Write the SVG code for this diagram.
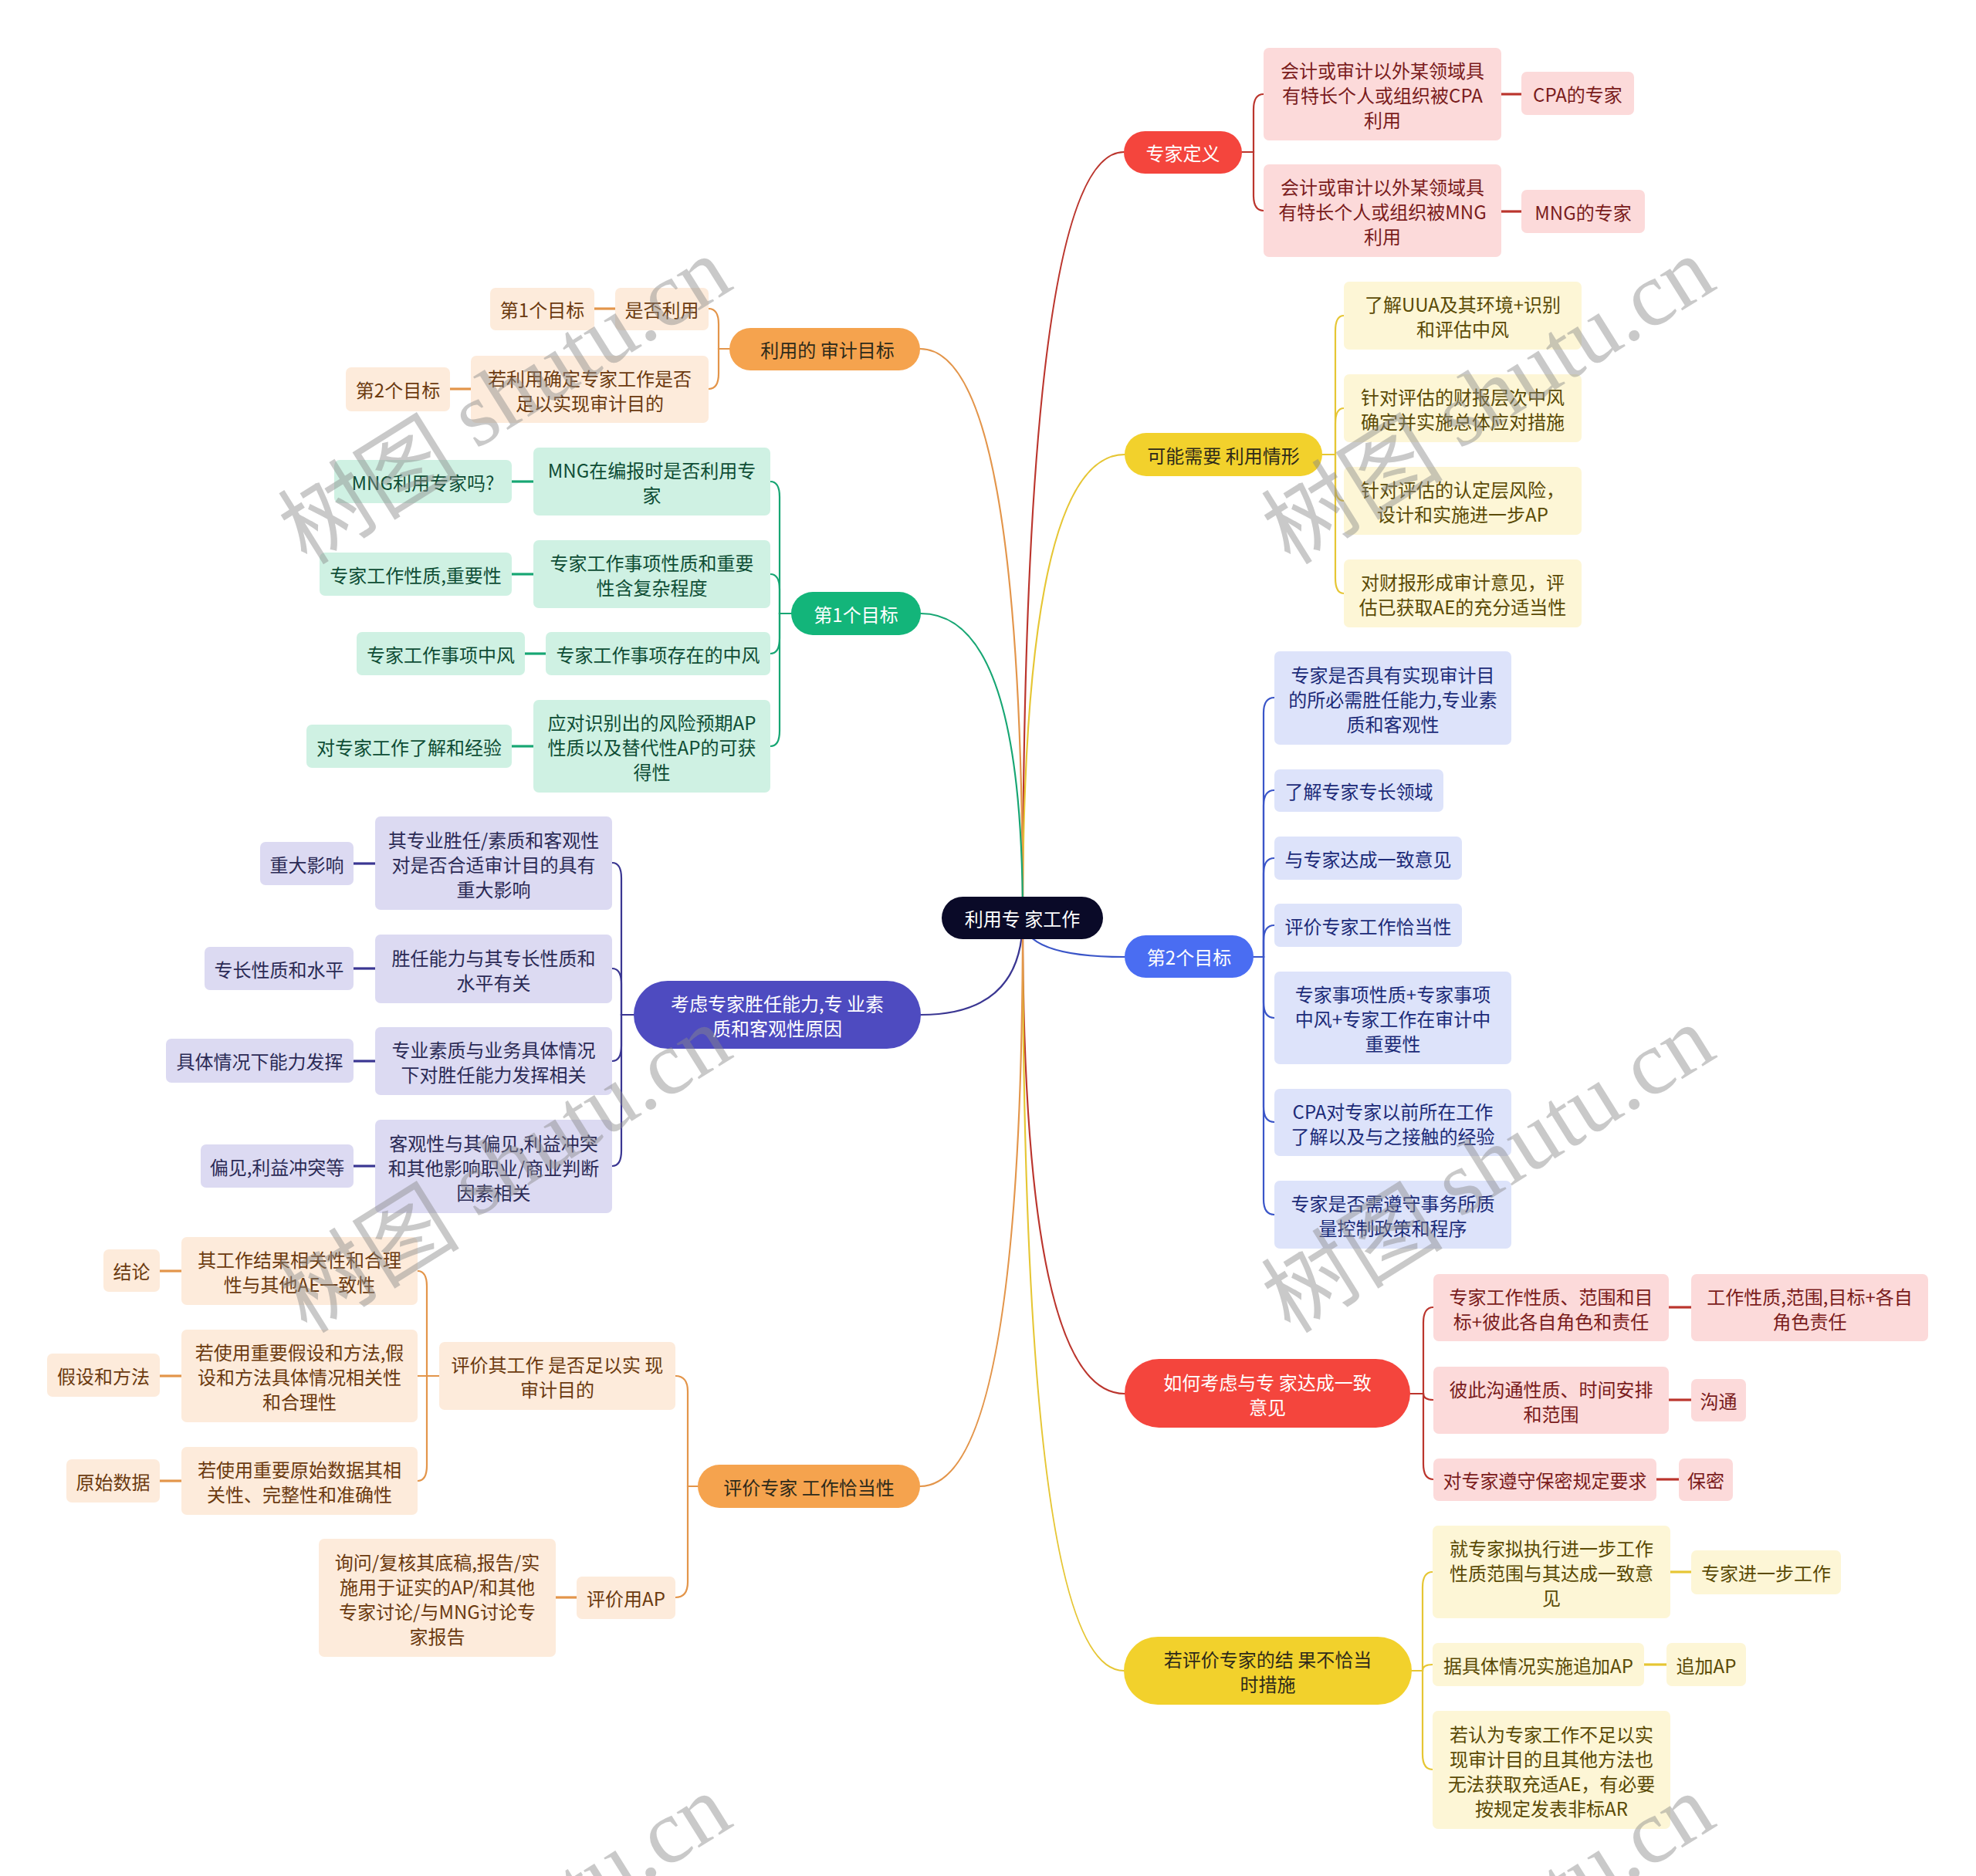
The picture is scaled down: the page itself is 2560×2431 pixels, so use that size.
<svg xmlns="http://www.w3.org/2000/svg" width="2560" height="2431" viewBox="0 0 2560 2431">
<style>
text{font-family:"Noto Sans CJK SC","Noto Sans",sans-serif;font-size:24px;text-anchor:middle;dominant-baseline:central}
.c{fill:none;stroke-width:2.2;stroke-linecap:round}
.g{fill:none;stroke-width:3.2}
.kr{stroke:#bb352d}.ky{stroke:#e6c634}.kb{stroke:#3a55c8}.kg{stroke:#17a673}.ko{stroke:#e3954a}.kp{stroke:#3a3692}
.mr{fill:#f4453d}.my{fill:#f2d12c}.mb{fill:#4a6df2}.mg{fill:#13b57a}.mo{fill:#f5a34e}.mp{fill:#4e4bc0}.mc{fill:#0a0a28}
.br{fill:#fcdada}.by{fill:#fdf6d6}.bb{fill:#dde3fa}.bg{fill:#cff1e3}.bo{fill:#fdebdb}.bp{fill:#dcdaf2}
.w{fill:#ffffff}.dk{fill:#2e2a1a}
.tr{fill:#7a1c1c}.ty{fill:#5a4a05}.tb{fill:#1c2b78}.tg{fill:#0e4d35}.to{fill:#6b3a0f}.tp{fill:#2b2a55}
.wm{fill:#8a8a8a;opacity:0.45;font-size:118px}
</style>
<rect width="2560" height="2431" fill="#ffffff"/>
<g id="connectors">
<path class="c kr" d="M1325,1190 Q1325,197 1456,197"/>
<path class="c ky" d="M1325,1190 Q1325,589 1457,589"/>
<path class="c kb" d="M1325,1190 Q1325,1240 1457,1240"/>
<path class="c kr" d="M1325,1190 Q1325,1806 1457,1806"/>
<path class="c ky" d="M1325,1190 Q1325,2165 1456,2165"/>
<path class="c ko" d="M1325,1190 Q1325,452 1192,452"/>
<path class="c kg" d="M1325,1190 Q1325,795 1193,795"/>
<path class="c kp" d="M1325,1190 Q1325,1315 1193,1315"/>
<path class="c ko" d="M1325,1190 Q1325,1926 1192,1926"/>
<path class="c kr" d="M1609,197 H1624 V142 Q1624,122 1637,122"/>
<path class="c kr" d="M1609,197 H1624 V253 Q1624,273 1637,273"/>
<path class="g kr" d="M1945,122 H1971"/>
<path class="g kr" d="M1945,274 H1971"/>
<path class="c ky" d="M1713,589 H1730 V429 Q1730,409 1741,409"/>
<path class="c ky" d="M1713,589 H1730 V549 Q1730,529 1741,529"/>
<path class="c ky" d="M1713,589 H1730 V629 Q1730,649 1741,649"/>
<path class="c ky" d="M1713,589 H1730 V749 Q1730,769 1741,769"/>
<path class="c kb" d="M1624,1240 H1637 V924 Q1637,904 1651,904"/>
<path class="c kb" d="M1624,1240 H1637 V1044 Q1637,1024 1651,1024"/>
<path class="c kb" d="M1624,1240 H1637 V1132 Q1637,1112 1651,1112"/>
<path class="c kb" d="M1624,1240 H1637 V1219 Q1637,1199 1651,1199"/>
<path class="c kb" d="M1624,1240 H1637 V1299 Q1637,1319 1651,1319"/>
<path class="c kb" d="M1624,1240 H1637 V1434 Q1637,1454 1651,1454"/>
<path class="c kb" d="M1624,1240 H1637 V1554 Q1637,1574 1651,1574"/>
<path class="c kr" d="M1827,1806 H1844 V1714 Q1844,1694 1857,1694"/>
<path class="c kr" d="M1827,1806 H1844 Q1844,1814 1857,1814"/>
<path class="c kr" d="M1827,1806 H1844 V1897 Q1844,1917 1857,1917"/>
<path class="g kr" d="M2162,1694 H2191"/>
<path class="g kr" d="M2162,1814 H2191"/>
<path class="g kr" d="M2146,1917 H2175"/>
<path class="c ky" d="M1829,2165 H1843 V2057 Q1843,2037 1856,2037"/>
<path class="c ky" d="M1829,2165 H1843 Q1843,2157 1856,2157"/>
<path class="c ky" d="M1829,2165 H1843 V2273 Q1843,2293 1856,2293"/>
<path class="g ky" d="M2164,2037 H2191"/>
<path class="g ky" d="M2130,2157 H2159"/>
<path class="c ko" d="M945,452 H931 V420 Q931,400 918,400"/>
<path class="c ko" d="M945,452 H931 V484 Q931,504 918,504"/>
<path class="g ko" d="M797,400 H770"/>
<path class="g ko" d="M610,504 H583"/>
<path class="c kg" d="M1025,795 H1010 V644 Q1010,624 998,624"/>
<path class="c kg" d="M1025,795 H1010 V764 Q1010,744 998,744"/>
<path class="c kg" d="M1025,795 H1010 V827 Q1010,847 998,847"/>
<path class="c kg" d="M1025,795 H1010 V947 Q1010,967 998,967"/>
<path class="g kg" d="M691,624 H663"/>
<path class="g kg" d="M691,744 H663"/>
<path class="g kg" d="M707,847 H680"/>
<path class="g kg" d="M691,967 H663"/>
<path class="c kp" d="M821,1315 H805 V1138 Q805,1118 793,1118"/>
<path class="c kp" d="M821,1315 H805 V1275 Q805,1255 793,1255"/>
<path class="c kp" d="M821,1315 H805 V1355 Q805,1375 793,1375"/>
<path class="c kp" d="M821,1315 H805 V1491 Q805,1511 793,1511"/>
<path class="g kp" d="M486,1119 H458"/>
<path class="g kp" d="M486,1255 H458"/>
<path class="g kp" d="M486,1375 H458"/>
<path class="g kp" d="M486,1511 H458"/>
<path class="c ko" d="M904,1926 H891 V1803 Q891,1783 875,1783"/>
<path class="c ko" d="M904,1926 H891 V2050 Q891,2070 875,2070"/>
<path class="c ko" d="M569,1783 H553 V1667 Q553,1647 541,1647"/>
<path class="c ko" d="M569,1783 H541"/>
<path class="c ko" d="M569,1783 H553 V1899 Q553,1919 541,1919"/>
<path class="g ko" d="M235,1647 H207"/>
<path class="g ko" d="M235,1783 H207"/>
<path class="g ko" d="M235,1919 H207"/>
<path class="g ko" d="M747,2070 H720"/>
</g>

<g id="center"><rect class="mc" x="1220" y="1162" width="209" height="55" rx="27.5"/><text class="w" x="1324.5" y="1189.5">利用专 家工作</text></g>

<g id="n1"><rect class="mr" x="1456" y="170" width="153" height="55" rx="27.5"/><text class="w" x="1532.5" y="197.5">专家定义</text></g>
<g id="n1a"><rect class="br" x="1637" y="62" width="308" height="120" rx="7"/><text class="tr"><tspan x="1791" y="90">会计或审计以外某领域具</tspan><tspan x="1791" y="122">有特长个人或组织被CPA</tspan><tspan x="1791" y="154">利用</tspan></text></g>
<g id="n1b"><rect class="br" x="1637" y="213" width="308" height="120" rx="7"/><text class="tr"><tspan x="1791" y="241">会计或审计以外某领域具</tspan><tspan x="1791" y="273">有特长个人或组织被MNG</tspan><tspan x="1791" y="305">利用</tspan></text></g>
<g id="n1a1"><rect class="br" x="1971" y="93" width="146" height="56" rx="7"/><text class="tr" x="2044" y="121">CPA的专家</text></g>
<g id="n1b1"><rect class="br" x="1971" y="246" width="160" height="56" rx="7"/><text class="tr" x="2051" y="274">MNG的专家</text></g>

<g id="n2"><rect class="my" x="1457" y="561" width="256" height="56" rx="28"/><text class="dk" x="1585" y="589">可能需要 利用情形</text></g>
<g id="n2a"><rect class="by" x="1741" y="365" width="308" height="88" rx="7"/><text class="ty"><tspan x="1895" y="393">了解UUA及其环境+识别</tspan><tspan x="1895" y="425">和评估中风</tspan></text></g>
<g id="n2b"><rect class="by" x="1741" y="485" width="308" height="88" rx="7"/><text class="ty"><tspan x="1895" y="513">针对评估的财报层次中风</tspan><tspan x="1895" y="545">确定并实施总体应对措施</tspan></text></g>
<g id="n2c"><rect class="by" x="1741" y="605" width="308" height="88" rx="7"/><text class="ty"><tspan x="1895" y="633">针对评估的认定层风险，</tspan><tspan x="1895" y="665">设计和实施进一步AP</tspan></text></g>
<g id="n2d"><rect class="by" x="1741" y="725" width="308" height="88" rx="7"/><text class="ty"><tspan x="1895" y="753">对财报形成审计意见，评</tspan><tspan x="1895" y="785">估已获取AE的充分适当性</tspan></text></g>

<g id="n3"><rect class="mb" x="1457" y="1212" width="167" height="55" rx="27.5"/><text class="w" x="1540.5" y="1239.5">第2个目标</text></g>
<g id="n3a"><rect class="bb" x="1651" y="844" width="307" height="121" rx="7"/><text class="tb"><tspan x="1804.5" y="872.5">专家是否具有实现审计目</tspan><tspan x="1804.5" y="904.5">的所必需胜任能力,专业素</tspan><tspan x="1804.5" y="936.5">质和客观性</tspan></text></g>
<g id="n3b"><rect class="bb" x="1651" y="997" width="219" height="55" rx="7"/><text class="tb" x="1760.5" y="1024.5">了解专家专长领域</text></g>
<g id="n3c"><rect class="bb" x="1651" y="1084" width="243" height="56" rx="7"/><text class="tb" x="1772.5" y="1112">与专家达成一致意见</text></g>
<g id="n3d"><rect class="bb" x="1651" y="1171" width="243" height="56" rx="7"/><text class="tb" x="1772.5" y="1199">评价专家工作恰当性</text></g>
<g id="n3e"><rect class="bb" x="1651" y="1259" width="307" height="120" rx="7"/><text class="tb"><tspan x="1804.5" y="1287">专家事项性质+专家事项</tspan><tspan x="1804.5" y="1319">中风+专家工作在审计中</tspan><tspan x="1804.5" y="1351">重要性</tspan></text></g>
<g id="n3f"><rect class="bb" x="1651" y="1411" width="307" height="87" rx="7"/><text class="tb"><tspan x="1804.5" y="1438.5">CPA对专家以前所在工作</tspan><tspan x="1804.5" y="1470.5">了解以及与之接触的经验</tspan></text></g>
<g id="n3g"><rect class="bb" x="1651" y="1530" width="307" height="88" rx="7"/><text class="tb"><tspan x="1804.5" y="1558">专家是否需遵守事务所质</tspan><tspan x="1804.5" y="1590">量控制政策和程序</tspan></text></g>

<g id="n4"><rect class="mr" x="1457" y="1761" width="370" height="89" rx="44.5"/><text class="w"><tspan x="1642" y="1789.5">如何考虑与专 家达成一致</tspan><tspan x="1642" y="1821.5">意见</tspan></text></g>
<g id="n4a"><rect class="br" x="1857" y="1651" width="305" height="87" rx="7"/><text class="tr"><tspan x="2009.5" y="1678.5">专家工作性质、范围和目</tspan><tspan x="2009.5" y="1710.5">标+彼此各自角色和责任</tspan></text></g>
<g id="n4b"><rect class="br" x="1857" y="1771" width="305" height="87" rx="7"/><text class="tr"><tspan x="2009.5" y="1798.5">彼此沟通性质、时间安排</tspan><tspan x="2009.5" y="1830.5">和范围</tspan></text></g>
<g id="n4c"><rect class="br" x="1857" y="1890" width="289" height="55" rx="7"/><text class="tr" x="2001.5" y="1917.5">对专家遵守保密规定要求</text></g>
<g id="n4a1"><rect class="br" x="2191" y="1651" width="307" height="87" rx="7"/><text class="tr"><tspan x="2344.5" y="1678.5">工作性质,范围,目标+各自</tspan><tspan x="2344.5" y="1710.5">角色责任</tspan></text></g>
<g id="n4b1"><rect class="br" x="2191" y="1787" width="71" height="55" rx="7"/><text class="tr" x="2226.5" y="1814.5">沟通</text></g>
<g id="n4c1"><rect class="br" x="2175" y="1890" width="70" height="55" rx="7"/><text class="tr" x="2210" y="1917.5">保密</text></g>

<g id="n5"><rect class="my" x="1456" y="2121" width="373" height="88" rx="44"/><text class="dk"><tspan x="1642.5" y="2149">若评价专家的结 果不恰当</tspan><tspan x="1642.5" y="2181">时措施</tspan></text></g>
<g id="n5a"><rect class="by" x="1856" y="1977" width="308" height="120" rx="7"/><text class="ty"><tspan x="2010" y="2005">就专家拟执行进一步工作</tspan><tspan x="2010" y="2037">性质范围与其达成一致意</tspan><tspan x="2010" y="2069">见</tspan></text></g>
<g id="n5b"><rect class="by" x="1856" y="2129" width="274" height="56" rx="7"/><text class="ty" x="1993" y="2157">据具体情况实施追加AP</text></g>
<g id="n5c"><rect class="by" x="1856" y="2217" width="308" height="153" rx="7"/><text class="ty"><tspan x="2010" y="2245.5">若认为专家工作不足以实</tspan><tspan x="2010" y="2277.5">现审计目的且其他方法也</tspan><tspan x="2010" y="2309.5">无法获取充适AE，有必要</tspan><tspan x="2010" y="2341.5">按规定发表非标AR</tspan></text></g>
<g id="n5a1"><rect class="by" x="2191" y="2009" width="194" height="57" rx="7"/><text class="ty" x="2288" y="2037.5">专家进一步工作</text></g>
<g id="n5b1"><rect class="by" x="2159" y="2129" width="103" height="56" rx="7"/><text class="ty" x="2210.5" y="2157">追加AP</text></g>

<g id="n6"><rect class="mo" x="945" y="425" width="247" height="55" rx="27.5"/><text class="dk" x="1072" y="452.5">利用的 审计目标</text></g>
<g id="n6a"><rect class="bo" x="797" y="373" width="121" height="55" rx="7"/><text class="to" x="857.5" y="400.5">是否利用</text></g>
<g id="n6b"><rect class="bo" x="610" y="461" width="308" height="87" rx="7"/><text class="to"><tspan x="764" y="488.5">若利用确定专家工作是否</tspan><tspan x="764" y="520.5">足以实现审计目的</tspan></text></g>
<g id="n6a1"><rect class="bo" x="635" y="373" width="135" height="55" rx="7"/><text class="to" x="702.5" y="400.5">第1个目标</text></g>
<g id="n6b1"><rect class="bo" x="448" y="476" width="135" height="57" rx="7"/><text class="to" x="515.5" y="504.5">第2个目标</text></g>

<g id="n7"><rect class="mg" x="1025" y="767" width="168" height="56" rx="28"/><text class="w" x="1109" y="795">第1个目标</text></g>
<g id="n7a"><rect class="bg" x="691" y="580" width="307" height="88" rx="7"/><text class="tg"><tspan x="844.5" y="608">MNG在编报时是否利用专</tspan><tspan x="844.5" y="640">家</tspan></text></g>
<g id="n7b"><rect class="bg" x="691" y="700" width="307" height="88" rx="7"/><text class="tg"><tspan x="844.5" y="728">专家工作事项性质和重要</tspan><tspan x="844.5" y="760">性含复杂程度</tspan></text></g>
<g id="n7c"><rect class="bg" x="707" y="819" width="291" height="56" rx="7"/><text class="tg" x="852.5" y="847">专家工作事项存在的中风</text></g>
<g id="n7d"><rect class="bg" x="691" y="907" width="307" height="120" rx="7"/><text class="tg"><tspan x="844.5" y="935">应对识别出的风险预期AP</tspan><tspan x="844.5" y="967">性质以及替代性AP的可获</tspan><tspan x="844.5" y="999">得性</tspan></text></g>
<g id="n7a1"><rect class="bg" x="433" y="596" width="230" height="56" rx="7"/><text class="tg" x="548" y="624">MNG利用专家吗?</text></g>
<g id="n7b1"><rect class="bg" x="414" y="716" width="249" height="56" rx="7"/><text class="tg" x="538.5" y="744">专家工作性质,重要性</text></g>
<g id="n7c1"><rect class="bg" x="462" y="819" width="218" height="56" rx="7"/><text class="tg" x="571" y="847">专家工作事项中风</text></g>
<g id="n7d1"><rect class="bg" x="397" y="939" width="266" height="56" rx="7"/><text class="tg" x="530" y="967">对专家工作了解和经验</text></g>

<g id="n8"><rect class="mp" x="821" y="1271" width="372" height="88" rx="44"/><text class="w"><tspan x="1007" y="1299">考虑专家胜任能力,专 业素</tspan><tspan x="1007" y="1331">质和客观性原因</tspan></text></g>
<g id="n8a"><rect class="bp" x="486" y="1058" width="307" height="121" rx="7"/><text class="tp"><tspan x="639.5" y="1086.5">其专业胜任/素质和客观性</tspan><tspan x="639.5" y="1118.5">对是否合适审计目的具有</tspan><tspan x="639.5" y="1150.5">重大影响</tspan></text></g>
<g id="n8b"><rect class="bp" x="486" y="1211" width="307" height="89" rx="7"/><text class="tp"><tspan x="639.5" y="1239.5">胜任能力与其专长性质和</tspan><tspan x="639.5" y="1271.5">水平有关</tspan></text></g>
<g id="n8c"><rect class="bp" x="486" y="1331" width="307" height="88" rx="7"/><text class="tp"><tspan x="639.5" y="1359">专业素质与业务具体情况</tspan><tspan x="639.5" y="1391">下对胜任能力发挥相关</tspan></text></g>
<g id="n8d"><rect class="bp" x="486" y="1451" width="307" height="121" rx="7"/><text class="tp"><tspan x="639.5" y="1479.5">客观性与其偏见,利益冲突</tspan><tspan x="639.5" y="1511.5">和其他影响职业/商业判断</tspan><tspan x="639.5" y="1543.5">因素相关</tspan></text></g>
<g id="n8a1"><rect class="bp" x="337" y="1091" width="121" height="56" rx="7"/><text class="tp" x="397.5" y="1119">重大影响</text></g>
<g id="n8b1"><rect class="bp" x="265" y="1227" width="193" height="56" rx="7"/><text class="tp" x="361.5" y="1255">专长性质和水平</text></g>
<g id="n8c1"><rect class="bp" x="215" y="1346" width="243" height="57" rx="7"/><text class="tp" x="336.5" y="1374.5">具体情况下能力发挥</text></g>
<g id="n8d1"><rect class="bp" x="260" y="1483" width="198" height="56" rx="7"/><text class="tp" x="359" y="1511">偏见,利益冲突等</text></g>

<g id="n9"><rect class="mo" x="904" y="1898" width="288" height="56" rx="28"/><text class="dk" x="1048" y="1926">评价专家 工作恰当性</text></g>
<g id="n9a"><rect class="bo" x="569" y="1739" width="306" height="88" rx="7"/><text class="to"><tspan x="722" y="1767">评价其工作 是否足以实 现</tspan><tspan x="722" y="1799">审计目的</tspan></text></g>
<g id="n9b"><rect class="bo" x="747" y="2043" width="128" height="55" rx="7"/><text class="to" x="811" y="2070.5">评价用AP</text></g>
<g id="n9a1"><rect class="bo" x="235" y="1603" width="306" height="88" rx="7"/><text class="to"><tspan x="388" y="1631">其工作结果相关性和合理</tspan><tspan x="388" y="1663">性与其他AE一致性</tspan></text></g>
<g id="n9a2"><rect class="bo" x="235" y="1723" width="306" height="120" rx="7"/><text class="to"><tspan x="388" y="1751">若使用重要假设和方法,假</tspan><tspan x="388" y="1783">设和方法具体情况相关性</tspan><tspan x="388" y="1815">和合理性</tspan></text></g>
<g id="n9a3"><rect class="bo" x="235" y="1875" width="306" height="88" rx="7"/><text class="to"><tspan x="388" y="1903">若使用重要原始数据其相</tspan><tspan x="388" y="1935">关性、完整性和准确性</tspan></text></g>
<g id="n9a1g"><rect class="bo" x="134" y="1619" width="73" height="55" rx="7"/><text class="to" x="170.5" y="1646.5">结论</text></g>
<g id="n9a2g"><rect class="bo" x="61" y="1754" width="146" height="56" rx="7"/><text class="to" x="134" y="1782">假设和方法</text></g>
<g id="n9a3g"><rect class="bo" x="86" y="1891" width="121" height="56" rx="7"/><text class="to" x="146.5" y="1919">原始数据</text></g>
<g id="n9b1"><rect class="bo" x="413" y="1994" width="307" height="153" rx="7"/><text class="to"><tspan x="566.5" y="2022.5">询问/复核其底稿,报告/实</tspan><tspan x="566.5" y="2054.5">施用于证实的AP/和其他</tspan><tspan x="566.5" y="2086.5">专家讨论/与MNG讨论专</tspan><tspan x="566.5" y="2118.5">家报告</tspan></text></g>

<g id="watermarks">
<text class="wm" transform="translate(651,514) rotate(-32)"><tspan>树图</tspan><tspan font-family="Liberation Serif"> shutu.cn</tspan></text>
<text class="wm" transform="translate(1925,514) rotate(-32)"><tspan>树图</tspan><tspan font-family="Liberation Serif"> shutu.cn</tspan></text>
<text class="wm" transform="translate(651,1510) rotate(-32)"><tspan>树图</tspan><tspan font-family="Liberation Serif"> shutu.cn</tspan></text>
<text class="wm" transform="translate(1925,1510) rotate(-32)"><tspan>树图</tspan><tspan font-family="Liberation Serif"> shutu.cn</tspan></text>
<text class="wm" transform="translate(651,2506) rotate(-32)"><tspan>树图</tspan><tspan font-family="Liberation Serif"> shutu.cn</tspan></text>
<text class="wm" transform="translate(1925,2506) rotate(-32)"><tspan>树图</tspan><tspan font-family="Liberation Serif"> shutu.cn</tspan></text>
</g>
</svg>
